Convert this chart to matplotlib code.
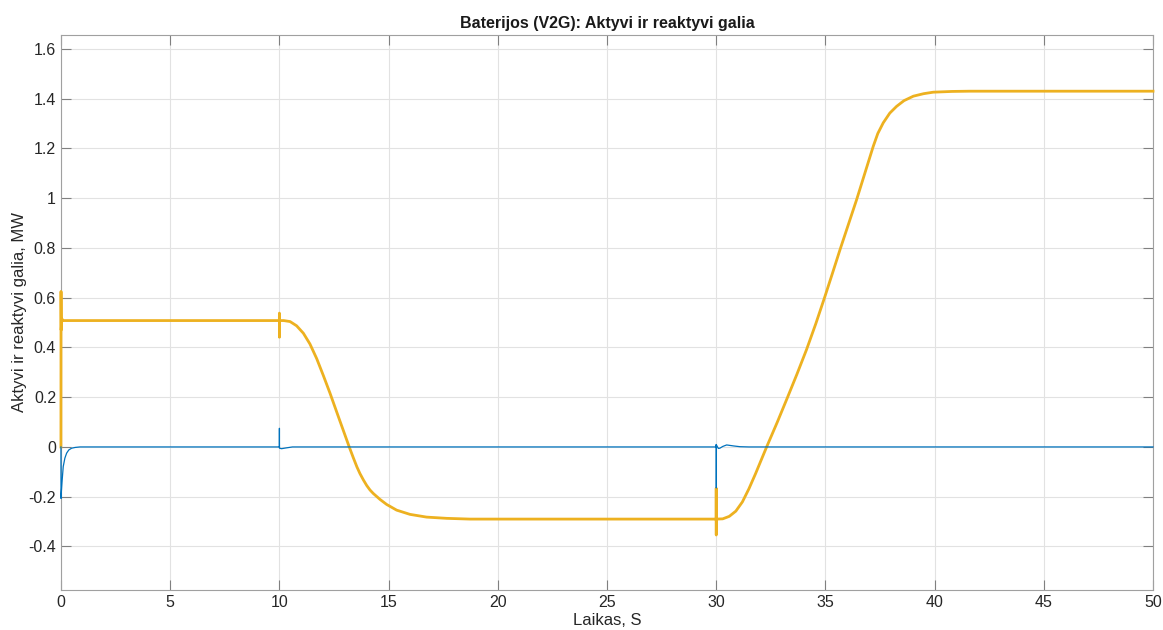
import matplotlib
matplotlib.use("Agg")
import matplotlib.pyplot as plt
from matplotlib.ticker import FuncFormatter

plt.rcParams['font.family'] = ['Liberation Sans', 'DejaVu Sans']

# Reactive power Q (MW) over time (s)
q_time = [0.0, 0.004, 0.012, 0.05, 0.105, 0.18, 0.26, 0.36, 0.49, 0.65, 0.87,
          10.0, 10.003, 10.006, 10.1, 10.3, 10.6,
          30.0, 30.003, 30.006, 30.01, 30.1, 30.17, 30.3, 30.48, 30.8, 31.09, 31.5, 50.0]
q_power = [0.0, -0.207, -0.19, -0.14, -0.079, -0.045, -0.025, -0.012, -0.005, -0.002, 0.0,
           0.0, 0.075, -0.005, -0.007, -0.004, 0.0,
           0.0, 0.01, -0.165, 0.008, -0.006, -0.005, 0.002, 0.008, 0.004, 0.001, 0.0, 0.0]

# Active power P (MW) over time (s)
p_time = [0.0, 0.004, 0.012, 0.04, 0.1,
          10.0, 10.002, 10.004, 10.006, 10.2, 10.49, 10.79, 11.1, 11.4, 11.71, 12.01,
          12.32, 12.75, 13.2, 13.38, 13.55, 13.69, 13.85, 14.0, 14.15, 14.3, 14.61,
          14.91, 15.37, 15.98, 16.74, 17.66, 18.73,
          30.0, 30.002, 30.004, 30.006, 30.3, 30.6, 30.9, 31.2, 31.5, 31.8, 32.05,
          32.31, 32.8, 33.27, 33.7, 34.14, 34.56, 34.98, 35.32, 35.67, 36.43, 37.19,
          37.4, 37.65, 37.95, 38.26, 38.6, 39.03, 39.5, 39.94, 40.8, 41.62, 50.0]
p_power = [0.0, 0.625, 0.47, 0.515, 0.508,
           0.508, 0.538, 0.441, 0.508, 0.508, 0.504, 0.487, 0.457, 0.414, 0.355, 0.288,
           0.216, 0.11, 0.0, -0.042, -0.08, -0.107, -0.133, -0.155, -0.173, -0.187, -0.211,
           -0.231, -0.254, -0.271, -0.282, -0.287, -0.290,
           -0.290, -0.166, -0.354, -0.290, -0.289, -0.279, -0.258, -0.221, -0.168, -0.108, -0.055,
           0.0, 0.1, 0.2, 0.293, 0.392, 0.495, 0.605, 0.697, 0.793, 0.994, 1.208,
           1.26, 1.303, 1.342, 1.369, 1.392, 1.410, 1.420, 1.426, 1.429, 1.430, 1.430]

x_ticks = list(range(0, 51, 5))
y_ticks = [-0.4, -0.2, 0.0, 0.2, 0.4, 0.6, 0.8, 1.0, 1.2, 1.4, 1.6]

fig = plt.figure(figsize=(11.63, 6.30), dpi=100)
ax = fig.add_axes([0.0524, 0.0635, 0.939, 0.881])

ax.plot(p_time, p_power, color='#EDB120', lw=2.0, zorder=3, clip_on=False,
        solid_joinstyle='round')
ax.plot(q_time, q_power, color='#0072BD', lw=0.9, zorder=4, clip_on=False)

ax.set_xlim(0, 50)
ax.set_ylim(-0.575, 1.656)
ax.set_xticks(x_ticks)
ax.set_yticks(y_ticks)
ax.yaxis.set_major_formatter(FuncFormatter(lambda v, _: f"{v:g}"))

ax.grid(True, color='#e2e2e2', lw=0.8)
ax.set_axisbelow(True)
for s in ax.spines.values():
    s.set_color('#a0a0a0')
    s.set_linewidth(0.8)
ax.tick_params(direction='in', length=7, width=0.8, color='#808080',
               labelsize=11.5, labelcolor='#262626', top=True, right=True)

ax.set_title('Baterijos (V2G): Aktyvi ir reaktyvi galia', fontsize=11.5,
             fontweight='bold', color='#1a1a1a', pad=5)
ax.set_xlabel('Laikas, S', fontsize=12, color='#262626', labelpad=2)
ax.set_ylabel('Aktyvi ir reaktyvi galia, MW', fontsize=12, color='#262626', labelpad=1)

fig.savefig('out.png', dpi=100, facecolor='white')
